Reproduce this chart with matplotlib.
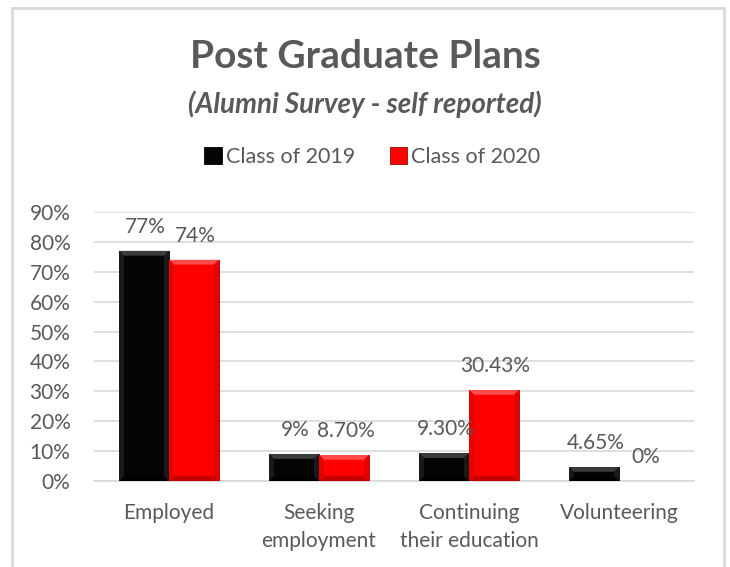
import matplotlib.pyplot as plt
import numpy as np
from matplotlib.patches import Rectangle, Polygon

plt.rcParams['font.family'] = ['Lato', 'DejaVu Sans']

#
# Post graduate plans, alumni survey (self reported)
#
categories = ['Employed', 'Seeking\nemployment', 'Continuing\ntheir education', 'Volunteering']
class_2019 = [77, 9, 9.30, 4.65]
class_2020 = [74, 8.70, 30.43, 0]
labels_2019 = ['77%', '9%', '9.30%', '4.65%']
labels_2020 = ['74%', '8.70%', '30.43%', '0%']
series_names = ['Class of 2019', 'Class of 2020']
yticks = list(range(0, 100, 10))

TEXT = '#595959'
BLACK = '#050505'
RED = '#ff0000'

fig = plt.figure(figsize=(7.3, 5.67), dpi=100)
ax = fig.add_axes([94 / 730, 86 / 567, 600 / 730, 269 / 567])

# outer chart border
fig.patches.append(Rectangle((12 / 730, -0.05), 712 / 730, 1.05 - 8 / 567,
                             transform=fig.transFigure, fill=False,
                             edgecolor='#d9d9d9', linewidth=2, zorder=0))

x = np.arange(len(categories))
w = 1 / 3
b1 = ax.bar(x - w / 2, class_2019, w, color=BLACK, edgecolor='#000000', linewidth=0.6, zorder=3)
b2 = ax.bar(x + w / 2, class_2020, w, color=RED, edgecolor='#a00000', linewidth=0.6, zorder=3)


def bevel(r, top, bottom, side):
    # bevel edges like the excel "angle" effect
    x0, wd, h = r.get_x(), r.get_width(), r.get_height()
    if h <= 0:
        return
    by = min(1.6, h / 3)
    bx = 0.033 * by / 1.6
    x1 = x0 + wd
    pts = {
        top: [(x0, h), (x1, h), (x1 - bx, h - by), (x0 + bx, h - by)],
        bottom: [(x0, 0), (x1, 0), (x1 - bx, by), (x0 + bx, by)],
    }
    for c, p in pts.items():
        ax.add_patch(Polygon(p, closed=True, color=c, linewidth=0, zorder=4))
    for p in ([(x0, 0), (x0, h), (x0 + bx, h - by), (x0 + bx, by)],
              [(x1, 0), (x1, h), (x1 - bx, h - by), (x1 - bx, by)]):
        ax.add_patch(Polygon(p, closed=True, color=side, linewidth=0, zorder=4))


for r in b1:
    bevel(r, '#3c3c3c', '#000000', '#1a1a1a')
for r in b2:
    bevel(r, '#ff4a4a', '#c40000', '#e80000')

for bars, labs in [(b1, labels_2019), (b2, labels_2020)]:
    for r, lab in zip(bars, labs):
        ax.annotate(lab, (r.get_x() + r.get_width() / 2, r.get_height()),
                    xytext=(1, 10), textcoords='offset points',
                    ha='center', va='bottom', fontsize=15, color=TEXT, zorder=5)

ax.set_xlim(-0.5, len(categories) - 0.5)
ax.set_ylim(0, 90)
ax.set_yticks(yticks)
ax.set_yticklabels(['%d%%' % t for t in yticks])
ax.set_xticks(x)
ax.set_xticklabels(categories, linespacing=1.5)
ax.tick_params(axis='both', length=0, labelsize=15, labelcolor=TEXT)
ax.tick_params(axis='x', pad=16)
ax.tick_params(axis='y', pad=17)
ax.grid(axis='y', color='#d9d9d9', linewidth=1.2, zorder=0)
ax.set_axisbelow(True)
for s in ['top', 'right', 'left']:
    ax.spines[s].set_visible(False)
ax.spines['bottom'].set_color('#d9d9d9')
ax.spines['bottom'].set_linewidth(1.2)

fig.text(0.5, 1 - 56 / 567, 'Post Graduate Plans', ha='center', va='center',
         fontsize=28, fontweight='bold', color=TEXT)
fig.text(0.5, 1 - 104 / 567, '(Alumni Survey - self reported)', ha='center', va='center',
         fontsize=20, fontweight='bold', fontstyle='italic', color=TEXT)

leg = fig.legend([b1, b2], series_names, loc='center', bbox_to_anchor=(0.51, 1 - 157 / 567),
                 ncol=2, frameon=False, fontsize=15.5, handlelength=0.8, handleheight=0.8,
                 handletextpad=0.2, columnspacing=1.6)
for t in leg.get_texts():
    t.set_color(TEXT)

plt.savefig('out.png', dpi=100)
